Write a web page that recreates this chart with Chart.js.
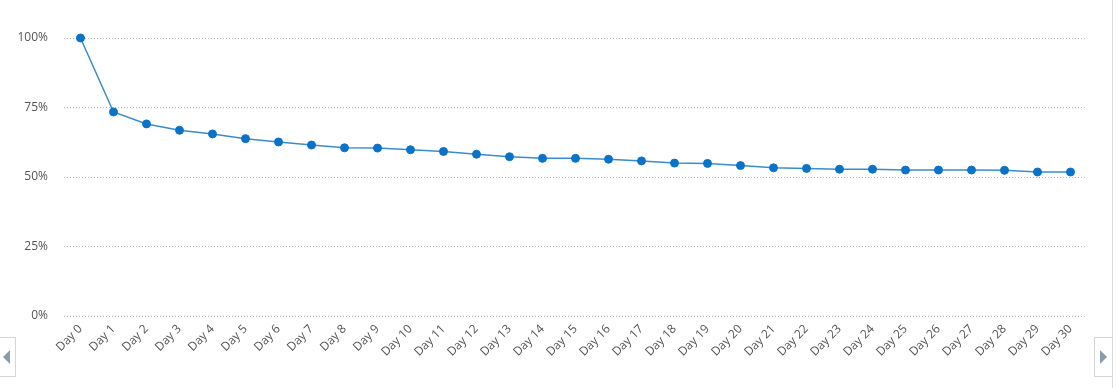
<!DOCTYPE html>
<html>
<head>
<meta charset="utf-8">
<script src="https://cdn.jsdelivr.net/npm/chart.js@4"></script>
<style>
  html, body { margin: 0; padding: 0; background: #fff; }
  #wrap { position: relative; width: 1116px; height: 388px; overflow: hidden; }
  #wrap canvas { position: absolute; left: 0; top: 0; }
  .vline { position: absolute; left: 1112px; top: 0; width: 1px; height: 388px; background: #dcdcdc; }
  .nav { position: absolute; top: 337px; height: 40px; border: 1px solid #d6d6d6; background: #fff; box-sizing: border-box; }
  .nav.left { left: -1px; width: 17px; }
  .nav.right { left: 1094px; width: 19px; }
  .tri { position: absolute; top: 12px; width: 0; height: 0; border-top: 7px solid transparent; border-bottom: 7px solid transparent; }
  .nav.left .tri { left: 3px; border-right: 7px solid #8b9bae; }
  .nav.right .tri { left: 5px; border-left: 7px solid #8b9bae; }
</style>
</head>
<body>
<div id="wrap">
  <canvas id="c" width="1116" height="388"></canvas>
  <div class="vline"></div>
  <div class="nav left"><div class="tri"></div></div>
  <div class="nav right"><div class="tri"></div></div>
</div>
<script>
const categories = ["Day 0","Day 1","Day 2","Day 3","Day 4","Day 5","Day 6","Day 7","Day 8","Day 9","Day 10",
  "Day 11","Day 12","Day 13","Day 14","Day 15","Day 16","Day 17","Day 18","Day 19","Day 20",
  "Day 21","Day 22","Day 23","Day 24","Day 25","Day 26","Day 27","Day 28","Day 29","Day 30"];
const retention = [100, 73.4, 69.1, 66.8, 65.5, 63.8, 62.6, 61.5, 60.5, 60.4, 59.8,
  59.2, 58.2, 57.3, 56.7, 56.7, 56.4, 55.8, 55.0, 54.9, 54.1,
  53.3, 53.1, 52.8, 52.8, 52.5, 52.5, 52.5, 52.4, 51.8, 51.8];
const yTicks = [0, 25, 50, 75, 100];

const FONT = "'Open Sans', 'Noto Sans', sans-serif";

new Chart(document.getElementById('c'), {
  type: 'line',
  data: {
    labels: categories,
    datasets: [{
      data: retention,
      borderColor: '#3b8ccb',
      borderWidth: 1.5,
      backgroundColor: '#0a73c8',
      pointBackgroundColor: '#0a73c8',
      pointBorderColor: '#0a73c8',
      pointRadius: 4,
      pointBorderWidth: 1,
      tension: 0,
      fill: false,
      clip: false
    }]
  },
  options: {
    responsive: false,
    animation: false,
    layout: { padding: { top: 38, right: 29, bottom: 0, left: 0 } },
    plugins: { legend: { display: false }, tooltip: { enabled: false } },
    scales: {
      x: {
        offset: true,
        grid: { display: false, drawTicks: false },
        border: { display: false },
        ticks: {
          autoSkip: false,
          minRotation: 45,
          maxRotation: 45,
          padding: 6,
          color: '#555555',
          font: { family: FONT, size: 12 }
        },
        afterFit(scale) { scale.height = 72; }
      },
      y: {
        min: 0,
        max: 100,
        afterBuildTicks(scale) { scale.ticks = yTicks.map(v => ({ value: v })); },
        grid: {
          color: '#b8b8b8',
          lineWidth: 1,
          drawTicks: false
        },
        border: { display: false, dash: [1, 2] },
        ticks: {
          padding: 16,
          color: '#555555',
          font: { family: FONT, size: 12 },
          callback: v => v + '%'
        },
        afterFit(scale) { scale.width = 64; }
      }
    }
  }
});
</script>
</body>
</html>
